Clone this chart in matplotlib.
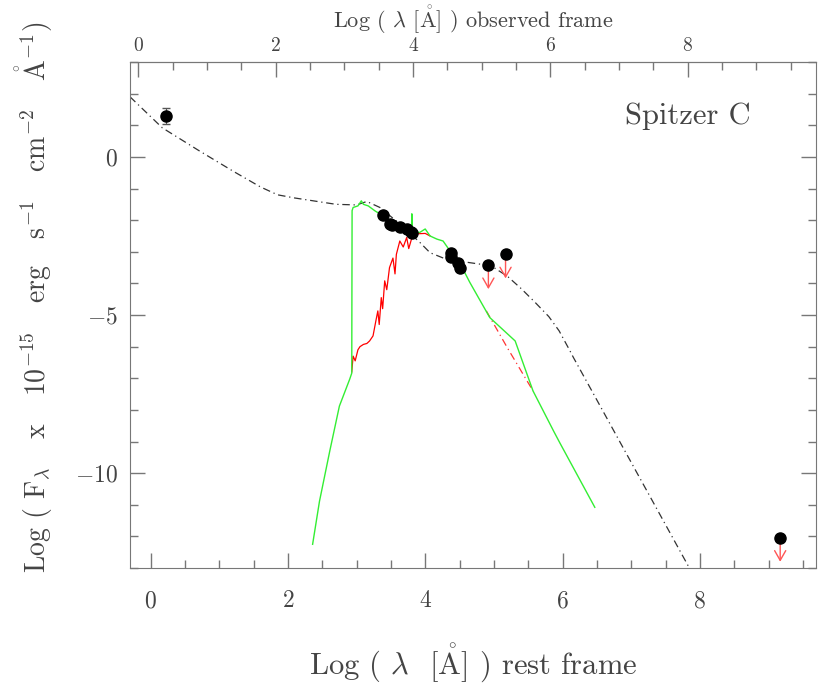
import matplotlib
matplotlib.use("Agg")
import matplotlib.pyplot as plt
from matplotlib.ticker import FixedLocator, MultipleLocator

# log(1+z) offset between rest and observed frame
z_offset = 0.176
obs_ticks = [0, 2, 4, 6, 8]

# torus/agn model (dash-dot)
sed_x = [-0.3, 0.17, 0.71, 1.2, 1.6, 1.85, 2.1, 2.4, 2.7, 3.0, 3.15, 3.34, 3.58,
         3.92, 4.07, 4.31, 4.6, 4.89, 5.0, 5.2, 5.4, 5.6, 5.8, 5.95, 6.1, 6.16,
         6.45, 6.84, 7.32, 7.86]
sed_y = [1.9, 0.92, 0.19, -0.45, -0.95, -1.2, -1.3, -1.4, -1.5, -1.52, -1.41,
         -1.6, -2.03, -2.7, -3.03, -3.24, -3.33, -3.42, -3.5, -3.78, -4.17, -4.6,
         -5.05, -5.5, -6.1, -6.35, -7.49, -9.03, -10.92, -13.05]

# green model
green_x = [2.36, 2.46, 2.61, 2.75, 2.9, 2.93, 2.935, 2.95, 3.02, 3.07, 3.1, 3.17,
           3.27, 3.39, 3.58, 3.78, 3.80, 3.805, 3.81, 3.92, 4.0, 4.07, 4.17, 4.26,
           4.36, 4.5, 4.65, 4.94, 5.31, 5.57, 5.87, 5.96, 6.47]
green_y = [-12.25, -10.89, -9.3, -7.88, -7.03, -6.84, -1.7, -1.6, -1.55, -1.39,
           -1.5, -1.55, -1.71, -1.87, -2.13, -2.34, -2.35, -1.8, -2.36, -2.39,
           -2.28, -2.5, -2.6, -2.66, -2.97, -3.34, -3.97, -5.08, -5.82, -7.4,
           -8.67, -9.04, -11.08]

# red model, spectral part and extrapolation
red_x = [2.93, 2.95, 2.98, 3.02, 3.05, 3.1, 3.15, 3.19, 3.24, 3.28, 3.31, 3.33,
         3.36, 3.38, 3.41, 3.44, 3.48, 3.53, 3.56, 3.58, 3.63, 3.68, 3.73, 3.76,
         3.82, 3.9, 4.0, 4.07]
red_y = [-6.8, -6.3, -6.45, -6.1, -6.0, -5.93, -5.9, -5.82, -5.66, -5.2, -4.87,
         -5.3, -4.45, -4.8, -3.92, -4.2, -3.5, -3.2, -3.7, -3.08, -2.66, -2.85,
         -2.55, -2.9, -2.45, -2.43, -2.42, -2.5]
red_ext_x = [4.89, 5.2, 5.57]
red_ext_y = [-4.87, -6.05, -7.4]

# photometry
phot_x = [0.22, 3.38, 3.48, 3.51, 3.63, 3.73, 3.79, 3.81, 4.37, 4.38, 4.48, 4.50]
phot_y = [1.30, -1.85, -2.11, -2.15, -2.22, -2.27, -2.39, -2.41, -3.05, -3.18,
          -3.34, -3.52]
phot_err = [0.25, 0.05, 0.05, 0.05, 0.05, 0.05, 0.05, 0.05, 0.05, 0.05, 0.05, 0.05]

# upper limits
ul_x = [4.92, 5.17, 9.17]
ul_y = [-3.42, -3.08, -12.04]
ul_len = 0.85

plt.rcParams["font.family"] = ["cmr10", "DejaVu Serif"]
plt.rcParams["mathtext.fontset"] = "cm"
plt.rcParams["axes.formatter.use_mathtext"] = True
plt.rcParams["axes.unicode_minus"] = True

txt = "#444444"
axc = "#777777"
ang = r"$\mathring{\mathrm{A}}$"

fig = plt.figure(figsize=(8.3, 6.95), dpi=100)
ax = fig.add_axes([0.1566, 0.1827, 0.8264, 0.7281])

ax.plot(sed_x, sed_y, color="#333333", lw=0.9, ls=(0, (6, 3, 1, 3)))
ax.plot(red_x, red_y, color="red", lw=0.9)
ax.plot(red_ext_x, red_ext_y, color="#ff3333", lw=0.9, ls=(0, (6, 3, 1, 3)))
ax.plot(green_x, green_y, color="#33ee33", lw=1.0)

ax.errorbar(phot_x, phot_y, yerr=phot_err, fmt="o", color="black", ms=8,
            elinewidth=0.8, capsize=3, ecolor="#555555", zorder=5)
ax.plot(ul_x, ul_y, "o", color="black", ms=8, zorder=5)
for x, y in zip(ul_x, ul_y):
    ax.annotate("", xy=(x, y - ul_len), xytext=(x, y),
                arrowprops=dict(arrowstyle="->,head_length=0.7,head_width=0.4",
                                color="#ff5555", lw=1.0))

ax.text(7.83, 1.3, "Spitzer C", ha="center", va="center", fontsize=22, color=txt)

ax.set_xlim(-0.3, 9.69)
ax.set_ylim(-13, 3)

ax.xaxis.set_major_locator(MultipleLocator(2))
ax.xaxis.set_minor_locator(MultipleLocator(0.5))
ax.yaxis.set_major_locator(MultipleLocator(5))
ax.yaxis.set_minor_locator(MultipleLocator(1))
ax.tick_params(which="both", direction="in", color=axc, labelcolor=txt,
               right=True, top=False, width=1)
ax.tick_params(which="major", length=11, labelsize=17)
ax.tick_params(which="minor", length=6)
ax.tick_params(axis="x", pad=16)
ax.tick_params(axis="y", pad=9)
for s in ax.spines.values():
    s.set_color(axc)

sec = ax.secondary_xaxis("top", functions=(lambda v: v + z_offset,
                                            lambda v: v - z_offset))
sec.xaxis.set_major_locator(FixedLocator(obs_ticks))
sec.xaxis.set_minor_locator(MultipleLocator(0.5))
sec.tick_params(which="both", direction="in", color=axc, labelcolor=txt, width=1)
sec.tick_params(which="major", length=11, labelsize=14, pad=5)
sec.tick_params(which="minor", length=6)
sec.spines["top"].set_color(axc)

fig.text(0.57, 0.972, "Log ( $\\lambda$ [" + ang + "] ) observed frame",
         fontsize=16, color=txt, ha="center", va="center")

ax.set_xlabel("Log ( $\\lambda$  [" + ang + "] ) rest frame", fontsize=22,
              color=txt)
ax.xaxis.set_label_coords(0.5, -0.145)

fig.text(0.042, 0.572,
         "Log ( F$_\\lambda$   x   10$^{-15}$   erg   s$^{-1}$   cm$^{-2}$   "
         "$\\mathring{\\mathrm{A}}^{-1}$)",
         rotation=90, ha="center", va="center", fontsize=20, color=txt)

fig.savefig("out.png", dpi=100)
